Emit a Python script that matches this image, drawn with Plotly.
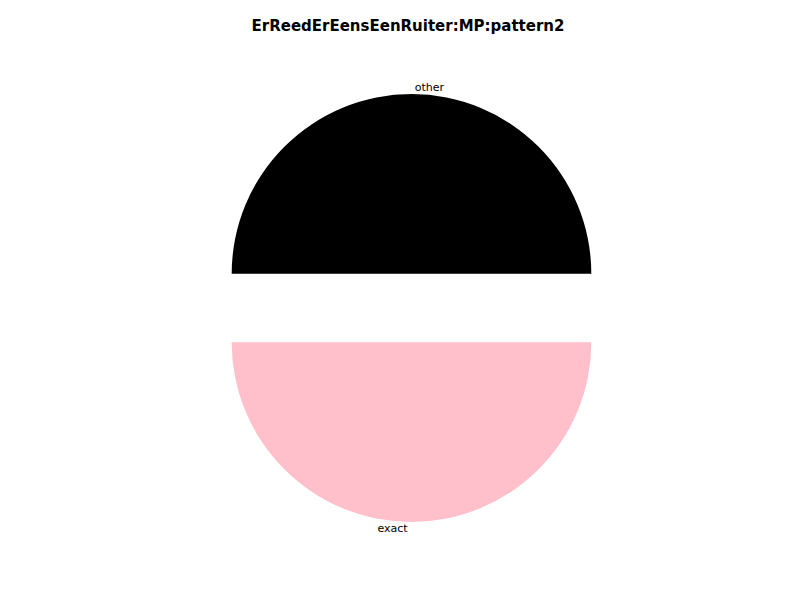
import plotly.graph_objects as go

labels = ["other", " ", "exact"]
values = [50, 0, 50]
colors = ["black", "white", "pink"]

fig = go.Figure(go.Pie(
    labels=labels, values=values, sort=False, direction="counterclockwise",
    rotation=-90, pull=[0.19, 0, 0.19],
    marker=dict(colors=colors),
    textinfo="label", textposition="outside",
    textfont=dict(family="DejaVu Sans", size=11, color="black"),
    hoverinfo="label+value", showlegend=False,
    domain=dict(x=[0, 1], y=[0.0, 1.0]),
))
fig.update_layout(
    width=800, height=600, paper_bgcolor="white",
    margin=dict(l=0, r=0, t=52, b=38),
    title=dict(text="<b>ErReedErEensEenRuiter:MP:pattern2</b>", x=0.5, y=0.98,
               font=dict(family="DejaVu Sans", size=15, color="black")),
)
fig.write_html("out.html")
